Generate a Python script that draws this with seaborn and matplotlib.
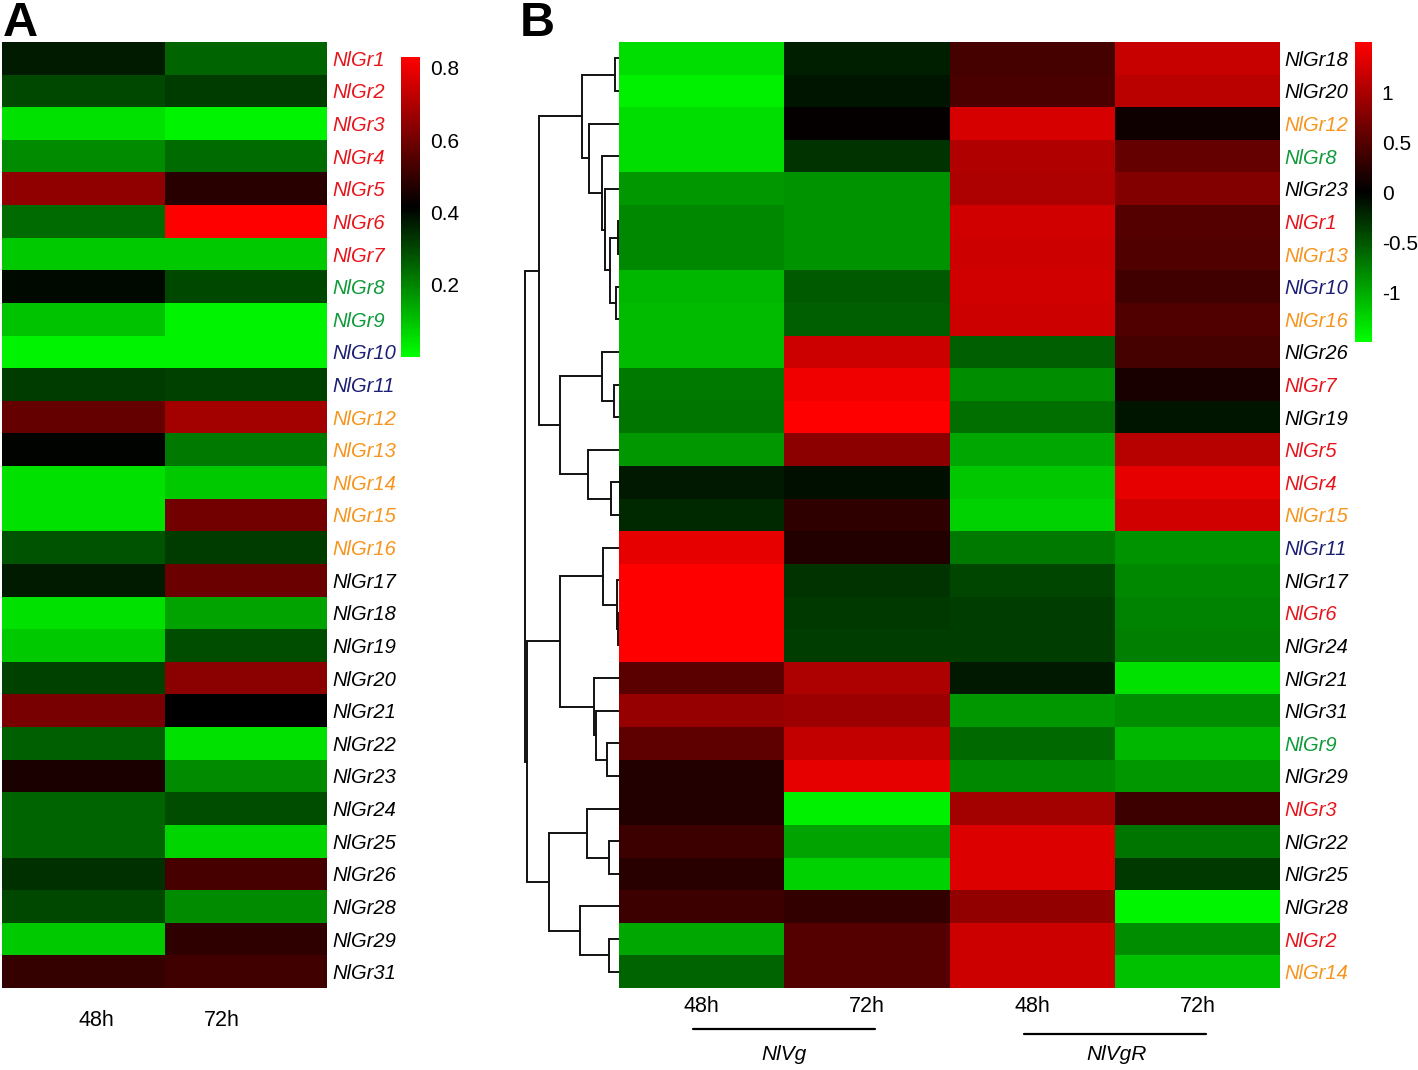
import numpy as np
import pandas as pd
import matplotlib
matplotlib.use("Agg")
import matplotlib.pyplot as plt
import seaborn as sns
from matplotlib.colors import LinearSegmentedColormap

# ---------------- data ----------------
genes_a = ["NlGr1", "NlGr2", "NlGr3", "NlGr4", "NlGr5", "NlGr6", "NlGr7", "NlGr8",
           "NlGr9", "NlGr10", "NlGr11", "NlGr12", "NlGr13", "NlGr14", "NlGr15",
           "NlGr16", "NlGr17", "NlGr18", "NlGr19", "NlGr20", "NlGr21", "NlGr22",
           "NlGr23", "NlGr24", "NlGr25", "NlGr26", "NlGr28", "NlGr29", "NlGr31"]
times_a = ["48h", "72h"]
a_48h = [0.37, 0.30, 0.05, 0.19, 0.65, 0.24, 0.09, 0.40, 0.10, 0.02, 0.32, 0.58,
         0.41, 0.05, 0.05, 0.28, 0.37, 0.05, 0.09, 0.31, 0.61, 0.26, 0.46, 0.25,
         0.25, 0.34, 0.30, 0.09, 0.50]
a_72h = [0.25, 0.32, 0.02, 0.24, 0.48, 0.83, 0.09, 0.30, 0.02, 0.02, 0.31, 0.68,
         0.22, 0.09, 0.60, 0.32, 0.59, 0.15, 0.29, 0.64, 0.415, 0.05, 0.19, 0.29,
         0.07, 0.53, 0.19, 0.49, 0.52]
a_cbar_ticks = [0.2, 0.4, 0.6, 0.8]

genes_b = ["NlGr18", "NlGr20", "NlGr12", "NlGr8", "NlGr23", "NlGr1", "NlGr13",
           "NlGr10", "NlGr16", "NlGr26", "NlGr7", "NlGr19", "NlGr5", "NlGr4",
           "NlGr15", "NlGr11", "NlGr17", "NlGr6", "NlGr24", "NlGr21", "NlGr31",
           "NlGr9", "NlGr29", "NlGr3", "NlGr22", "NlGr25", "NlGr28", "NlGr2", "NlGr14"]
times_b = ["48h", "72h", "48h", "72h"]
groups_b = ["NlVg", "NlVgR"]
nlvg_48h = [-1.29, -1.41, -1.29, -1.29, -0.89, -0.80, -0.80, -1.07, -1.10, -1.10,
            -0.71, -0.68, -0.89, -0.15, -0.24, 1.35, 1.50, 1.50, 1.50, 0.53, 0.89,
            0.56, 0.21, 0.21, 0.36, 0.24, 0.36, -0.98, -0.59]
nlvg_72h = [-0.18, -0.12, 0.03, -0.30, -0.86, -0.86, -0.86, -0.53, -0.56, 1.20,
            1.41, 1.50, 0.83, -0.09, 0.27, 0.21, -0.30, -0.33, -0.36, 1.01, 0.92,
            1.14, 1.35, -1.41, -0.95, -1.23, 0.30, 0.50, 0.50]
nlvgr_48h = [0.41, 0.44, 1.26, 1.04, 1.01, 1.23, 1.20, 1.23, 1.20, -0.56, -0.83,
             -0.65, -0.98, -1.17, -1.23, -0.71, -0.41, -0.36, -0.36, -0.15, -0.89,
             -0.62, -0.80, 0.95, 1.29, 1.29, 0.86, 1.20, 1.20]
nlvgr_72h = [1.17, 1.10, 0.09, 0.59, 0.77, 0.50, 0.47, 0.38, 0.47, 0.41, 0.15,
             -0.12, 1.07, 1.35, 1.23, -0.86, -0.80, -0.77, -0.74, -1.32, -0.83,
             -1.07, -0.89, 0.36, -0.68, -0.33, -1.44, -0.83, -1.13]
b_cbar_ticks = [-1, -0.5, 0, 0.5, 1]

# dendrogram: (merge height, left, right)
tree_b = (94,
          (80,
           (37, (4, "NlGr18", "NlGr20"),
                (30, "NlGr12", (17, "NlGr8", (14, "NlGr23",
                    (9, (1.5, "NlGr1", "NlGr13"), (3, "NlGr10", "NlGr16")))))),
           (59, (17, "NlGr26", (5, "NlGr7", "NlGr19")),
                (31, "NlGr5", (8, "NlGr4", "NlGr15")))),
          (92,
           (59, (16, "NlGr11", (2, "NlGr17", (1, "NlGr6", "NlGr24"))),
                (25, "NlGr21", (23, "NlGr31", (12, "NlGr9", "NlGr29")))),
           (70, (32, "NlGr3", (10, "NlGr22", "NlGr25")),
                (39, "NlGr28", (10, "NlGr2", "NlGr14")))))

label_colors = {
    "NlGr1": "red", "NlGr2": "red", "NlGr3": "red", "NlGr4": "red", "NlGr5": "red",
    "NlGr6": "red", "NlGr7": "red", "NlGr8": "green", "NlGr9": "green",
    "NlGr10": "navy", "NlGr11": "navy", "NlGr12": "orange", "NlGr13": "orange",
    "NlGr14": "orange", "NlGr15": "orange", "NlGr16": "orange",
}
palette = {"red": "#e8141b", "green": "#0f9a3a", "navy": "#1c1f73",
           "orange": "#f7941d", "black": "#000000"}

# ---------------- style ----------------
sns.set_theme(style="white")
plt.rcParams["font.family"] = ["Liberation Sans", "DejaVu Sans"]
plt.rcParams["text.color"] = "black"

W, H = 1418, 1070
fig = plt.figure(figsize=(W / 100, H / 100), dpi=100)


def px(x0, y0, x1, y1):
    return [x0 / W, 1 - y1 / H, (x1 - x0) / W, (y1 - y0) / H]


cmap = LinearSegmentedColormap.from_list("gkr", ["#00ff00", "#000000", "#ff0000"])


def style_rows(ax, genes, pad):
    ax.yaxis.tick_right()
    ax.set_yticks(np.arange(len(genes)) + 0.5)
    ax.set_yticklabels(genes, rotation=0)
    ax.tick_params(axis="y", length=0, pad=pad, labelsize=14.5,
                   labelright=True, labelleft=False)
    for t in ax.get_yticklabels():
        t.set_style("italic")
        t.set_color(palette[label_colors.get(t.get_text(), "black")])
    ax.set_xlabel("")
    ax.set_ylabel("")


def style_cbar(ax, ticks, labels):
    cb = ax.collections[0].colorbar
    cb.outline.set_visible(False)
    cb.set_ticks(ticks)
    cb.set_ticklabels(labels)
    cb.ax.tick_params(length=0, labelsize=15, pad=7, labelcolor="black")


# ---------------- panel A ----------------
dfA = pd.DataFrame({times_a[0]: a_48h, times_a[1]: a_72h}, index=genes_a)
axA = fig.add_axes(px(2, 42, 327, 988))
caxA = fig.add_axes(px(401, 57, 420, 357))
sns.heatmap(dfA, ax=axA, cbar_ax=caxA, cmap=cmap, vmin=0.0, vmax=0.83,
            yticklabels=True, xticklabels=True)
style_rows(axA, genes_a, 4)
axA.set_xticks([0.58, 1.35])
axA.set_xticklabels(times_a, rotation=0)
axA.tick_params(axis="x", length=0, pad=16, labelsize=15.5, labelcolor="black")
style_cbar(axA, a_cbar_ticks, [f"{v:.1f}" for v in a_cbar_ticks])
fig.text(3 / W, 1 - 1 / H, "A", fontsize=35, fontweight="bold", va="top",
         ha="left", color="black")

# ---------------- panel B ----------------
matB = np.column_stack([nlvg_48h, nlvg_72h, nlvgr_48h, nlvgr_72h])
dfB = pd.DataFrame(matB, index=genes_b)
axB = fig.add_axes(px(619, 42, 1280, 988))
caxB = fig.add_axes(px(1355, 42, 1372, 342))
sns.heatmap(dfB, ax=axB, cbar_ax=caxB, cmap=cmap, vmin=-1.5, vmax=1.5,
            yticklabels=True, xticklabels=True)
style_rows(axB, genes_b, 3)
axB.set_xticks(np.arange(len(times_b)) + 0.5)
axB.set_xticklabels(times_b, rotation=0)
axB.tick_params(axis="x", length=0, pad=6, labelsize=15.5, labelcolor="black")
style_cbar(axB, b_cbar_ticks, ["-1", "-0.5", "0", "0.5", "1"])
fig.text(520 / W, 1 - 1 / H, "B", fontsize=35, fontweight="bold", va="top",
         ha="left", color="black")

for gi, g in enumerate(groups_b):
    c = 2 * gi + 1.0
    axB.plot([c - 0.55, c + 0.55], [30.25 + 0.15 * gi] * 2, color="black",
             lw=1.6, clip_on=False)
    axB.text(c + 0.01 * gi, 31.05, g, ha="center", va="center", fontsize=15,
             style="italic", color="black")

# dendrogram
axD = fig.add_axes(px(520, 42, 619, 988))
pos = {g: i + 0.5 for i, g in enumerate(genes_b)}


def draw_tree(ax, node):
    if isinstance(node, str):
        return pos[node], 0.0
    h, left, right = node
    yl, hl = draw_tree(ax, left)
    yr, hr = draw_tree(ax, right)
    ax.plot([hl, h, h, hr], [yl, yl, yr, yr], color="#111111", lw=1.4,
            solid_joinstyle="miter")
    return (yl + yr) / 2, h


draw_tree(axD, tree_b)
axD.set_xlim(99, 0)
axD.set_ylim(len(genes_b), 0)
axD.axis("off")

fig.savefig("out.png", dpi=100, facecolor="white")
